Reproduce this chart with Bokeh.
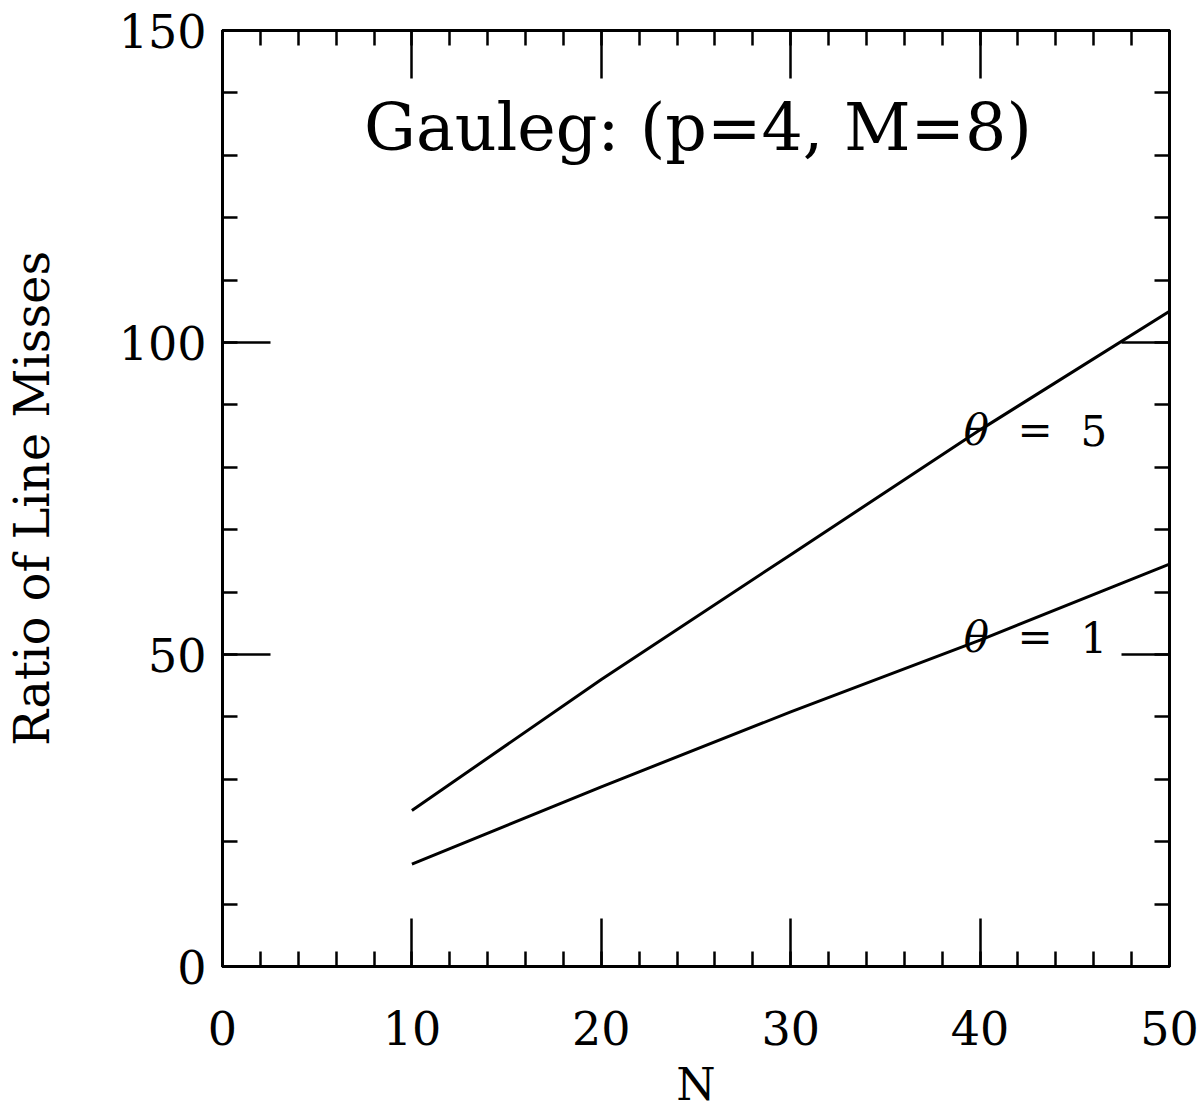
from bokeh.plotting import figure
from bokeh.models import LinearAxis, SingleIntervalTicker, Range1d, Label, CustomJSTickFormatter
from bokeh.core.properties import value
from bokeh.embed import file_html
from bokeh.resources import INLINE

# ---- data ----
N_values = [10, 20, 30, 40, 50]
theta5_ratio = [25.0, 46.0, 66.0, 86.0, 105.0]
theta1_ratio = [16.4, 28.8, 40.8, 52.3, 64.5]

x_ticks_interval = 10
y_ticks_interval = 50
title_text = "Gauleg: (p=4, M=8)"
x_label = "N"
y_label = "Ratio of Line Misses"
series_labels = ["5", "1"]

FONT = "DejaVu Serif"

p = figure(width=1201, height=1113,
           x_range=Range1d(0, 50), y_range=Range1d(0, 150),
           output_backend="svg", toolbar_location=None,
           min_border_left=220, min_border_right=32,
           min_border_top=30, min_border_bottom=147,
           background_fill_color="white", border_fill_color="white")

p.xgrid.visible = False
p.ygrid.visible = False
p.outline_line_color = "black"
p.outline_line_width = 3


def style_axis(ax, interval, show_labels=True):
    ax.ticker = SingleIntervalTicker(interval=interval, num_minor_ticks=5)
    ax.major_tick_in = 48
    ax.major_tick_out = 0
    ax.minor_tick_in = 15
    ax.minor_tick_out = 0
    ax.major_tick_line_width = 2.5
    ax.minor_tick_line_width = 2.5
    ax.major_tick_line_color = "black"
    ax.minor_tick_line_color = "black"
    ax.axis_line_width = 3
    ax.axis_line_color = "black"
    ax.major_label_text_font = FONT
    ax.major_label_text_color = "black"
    ax.major_label_text_font_size = "46px"
    if not show_labels:
        ax.formatter = CustomJSTickFormatter(code="return ''")
        ax.major_label_standoff = 0
    ax.axis_label_text_font = FONT
    ax.axis_label_text_font_style = "normal"
    ax.axis_label_text_color = "black"


xa = p.xaxis[0]
style_axis(xa, x_ticks_interval)
xa.major_label_standoff = 44
xa.axis_label = x_label
xa.axis_label_text_font_size = "45px"
xa.axis_label_standoff = 10

ya = p.yaxis[0]
style_axis(ya, y_ticks_interval)
ya.major_label_standoff = 16
ya.axis_label = y_label
ya.axis_label_text_font_size = "48px"
ya.axis_label_standoff = 56

top_ax = LinearAxis()
style_axis(top_ax, x_ticks_interval, show_labels=False)
p.add_layout(top_ax, "above")

right_ax = LinearAxis()
style_axis(right_ax, y_ticks_interval, show_labels=False)
p.add_layout(right_ax, "right")

# ---- curves ----
p.line(N_values, theta5_ratio, line_color="black", line_width=3)
p.line(N_values, theta1_ratio, line_color="black", line_width=3)

# ---- title inside the frame ----
p.add_layout(Label(x=25.1, y=134.5, text=title_text, text_font=FONT,
                   text_font_size="65px", text_align="center",
                   text_baseline="middle", text_color="black"))

# ---- curve labels ----
label_y = [85.9, 52.7]
for lab, yv in zip(series_labels, label_y):
    p.text(x=[39.8], y=[yv], text=["θ"], text_font=value(FONT),
           text_font_style="italic", text_font_size="42px",
           text_align="center", text_baseline="middle", text_color="black")
    p.text(x=[42.9], y=[yv], text=["="], text_font=value(FONT),
           text_font_size="42px", text_align="center",
           text_baseline="middle", text_color="black")
    p.text(x=[46.0], y=[yv], text=[lab], text_font=value(FONT),
           text_font_size="42px", text_align="center",
           text_baseline="middle", text_color="black")

open("out.html", "w").write(file_html(p, INLINE))
